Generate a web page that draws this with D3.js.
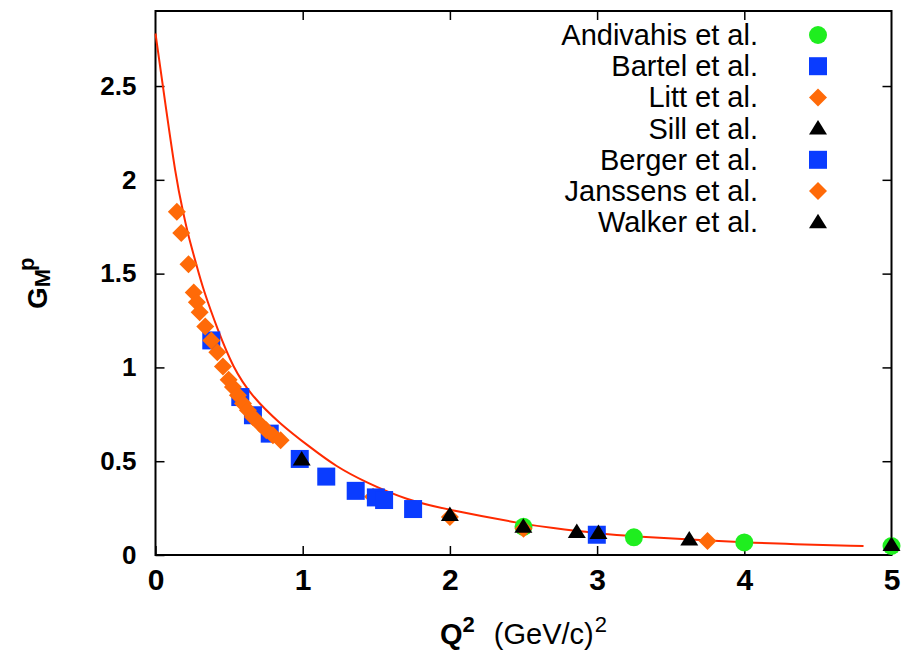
<!DOCTYPE html>
<html><head><meta charset="utf-8">
<script src="https://cdn.jsdelivr.net/npm/d3@7"></script>
<style>html,body{margin:0;padding:0;background:#fff;}svg{display:block;font-family:"Liberation Sans",Arial,sans-serif;}</style>
</head><body>
<svg id="c" width="906" height="655"></svg>
<script>
// ---- data ----
const xTicks = [0, 1, 2, 3, 4, 5];
const yTicks = [0, 0.5, 1, 1.5, 2, 2.5];
const yTickLabels = ["0", "0.5", "1", "1.5", "2", "2.5"];

const andivahis = [[2.5,0.15],[3.25,0.094],[4.0,0.067],[5.0,0.048]];
const bartel = [[0.379,1.144],[0.576,0.842],[0.662,0.745],[0.776,0.647]];
const litt = [[1.478,0.31],[2.0,0.203],[2.5,0.14],[3.75,0.074]];
const sill = [[2.862,0.122],[3.626,0.083],[5.0,0.053]];
const berger = [[0.98,0.512],[1.16,0.418],[1.36,0.342],[1.497,0.307],[1.553,0.293],[1.75,0.245],[2.998,0.108]];
const janssens = [[0.145,1.83],[0.175,1.716],[0.224,1.55],[0.26,1.40],[0.281,1.347],[0.30,1.294],
  [0.338,1.218],[0.379,1.144],[0.42,1.081],[0.458,1.005],[0.497,0.934],[0.526,0.895],[0.56,0.851],
  [0.594,0.807],[0.628,0.771],[0.662,0.736],[0.707,0.70],[0.753,0.665],[0.798,0.638],[0.85,0.612]];
const walker = [[0.993,0.509],[2.0,0.213],[2.499,0.15],[3.009,0.117]];

const fitQ2 = [0,0.05,0.14,0.19,0.22,0.277,0.322,0.424,0.526,0.65,0.844,1.048,1.229,1.422,1.705,2.0,2.5,2.68,3.0,3.25,3.81,4.27,4.81];
const fitG  = [2.78,2.5,2.0,1.82,1.71,1.55,1.42,1.197,1.0,0.85,0.70,0.576,0.47,0.39,0.293,0.239,0.165,0.145,0.115,0.099,0.0745,0.0585,0.048];

const seriesNames = ["Andivahis et al.","Bartel et al.","Litt et al.","Sill et al.","Berger et al.","Janssens et al.","Walker et al."];
const seriesData = [andivahis, bartel, litt, sill, berger, janssens, walker];
const seriesShape = ["circle","square","diamond","triangle","square","diamond","triangle"];
const seriesColor = ["#1fee1f","#0a3cff","#ff6a08","#000000","#0a3cff","#ff6a08","#000000"];

// ---- layout ----
const svg = d3.select("#c");
const L = 155.5, R = 891.5, T = 11, B = 555;
const x = d3.scaleLinear().domain([0,5]).range([L,R]);
const y = d3.scaleLinear().domain([0,2.9]).range([B,T]);

function shapePath(s){
  const h = 9;
  if (s==="square") return `M${-h},${-h}h${2*h}v${2*h}h${-2*h}Z`;
  if (s==="diamond") return `M0,${-h}L${h},0L0,${h}L${-h},0Z`;
  if (s==="triangle") return `M0,${-8.5}L${h},${6}L${-h},${6}Z`;
  return d3.symbol(d3.symbolCircle, Math.PI*9*9)();
}

// frame
svg.append("rect").attr("x",L).attr("y",T).attr("width",R-L).attr("height",B-T)
  .attr("fill","none").attr("stroke","#000").attr("stroke-width",2);

// axes (ticks inward, mirrored)
const ax = svg.append("g");
ax.append("g").attr("transform",`translate(0,${B})`)
  .call(d3.axisBottom(x).tickValues(xTicks).tickSize(-9).tickFormat(d3.format("d")).tickPadding(14))
  .call(g=>{g.select(".domain").remove();
    g.selectAll("line").attr("stroke","#000").attr("stroke-width",1.5);
    g.selectAll("text").attr("font-size",30).attr("font-weight","bold").attr("fill","#000")
      .attr("font-family","Liberation Sans, Arial, sans-serif");});
ax.append("g").attr("transform",`translate(0,${T})`)
  .call(d3.axisTop(x).tickValues(xTicks.slice(1,5)).tickSize(-9).tickFormat(""))
  .call(g=>{g.select(".domain").remove();g.selectAll("line").attr("stroke","#000").attr("stroke-width",1.5);});
ax.append("g").attr("transform",`translate(${L},0)`)
  .call(d3.axisLeft(y).tickValues(yTicks).tickSize(-9).tickFormat((d,i)=>yTickLabels[i]).tickPadding(19))
  .call(g=>{g.select(".domain").remove();
    g.selectAll("line").attr("stroke","#000").attr("stroke-width",1.5);
    g.selectAll("text").attr("font-size",26).attr("font-weight","bold").attr("fill","#000")
      .attr("font-family","Liberation Sans, Arial, sans-serif");});
ax.append("g").attr("transform",`translate(${R},0)`)
  .call(d3.axisRight(y).tickValues(yTicks.slice(1)).tickSize(-9).tickFormat(""))
  .call(g=>{g.select(".domain").remove();g.selectAll("line").attr("stroke","#000").attr("stroke-width",1.5);});

// fit curve
const fit = fitQ2.map((q,i)=>[q,fitG[i]]);
svg.append("path").datum(fit)
  .attr("d", d3.line().x(d=>x(d[0])).y(d=>y(d[1])).curve(d3.curveBasis))
  .attr("fill","none").attr("stroke","#ff2a00").attr("stroke-width",2);

// points
seriesData.forEach((data,si)=>{
  svg.append("g").selectAll("path").data(data).join("path")
    .attr("transform",d=>`translate(${x(d[0])},${y(d[1])})`)
    .attr("d",shapePath(seriesShape[si]))
    .attr("fill",seriesColor[si]);
});

// legend
const lg = svg.append("g");
seriesNames.forEach((n,i)=>{
  const cy = 35 + i*31.2;
  lg.append("text").attr("x",758).attr("y",cy+10).attr("text-anchor","end")
    .attr("font-size",29).attr("fill","#000").text(n);
  lg.append("path").attr("transform",`translate(818,${cy})`)
    .attr("d",shapePath(seriesShape[i])).attr("fill",seriesColor[i]);
});

// axis titles
const xt = svg.append("text").attr("x",440).attr("y",644).attr("font-size",29).attr("fill","#000");
xt.append("tspan").attr("font-weight","bold").text("Q");
xt.append("tspan").attr("font-weight","bold").attr("font-size",22).attr("dy",-12).text("2");
xt.append("tspan").attr("dy",12).attr("dx",19).text("(GeV/c)");
xt.append("tspan").attr("font-size",22).attr("dy",-12).attr("dx",1).text("2");

const yt = svg.append("text").attr("transform","translate(47,309) rotate(-90)")
  .attr("font-size",28).attr("font-weight","bold").attr("fill","#000");
yt.append("tspan").text("G");
yt.append("tspan").attr("font-size",22).attr("dy",3).text("M");
yt.append("tspan").attr("font-size",22).attr("dy",-16).attr("dx",-2).text("p");
</script>
</body></html>
